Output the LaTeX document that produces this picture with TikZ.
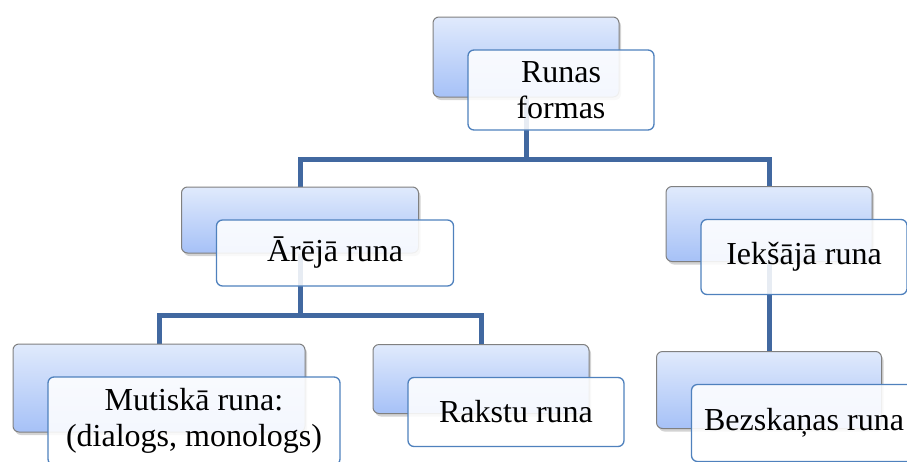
\documentclass[tikz,border=0pt]{standalone}
\usepackage{fontspec}
\setmainfont{Liberation Serif}
\usetikzlibrary{shadows,backgrounds}

\definecolor{linkblue}{RGB}{65,104,160}
\definecolor{frameblue}{RGB}{79,129,189}
\definecolor{backgray}{RGB}{128,128,128}
\definecolor{backtop}{RGB}{224,234,252}
\definecolor{backbot}{RGB}{166,193,247}

\tikzset{
backbox/.style={draw=backgray,line width=1pt,rounded corners=6pt,top color=backtop,bottom color=backbot,
  drop shadow={shadow xshift=2pt,shadow yshift=-3pt,opacity=0.35}},
frontbox/.style={draw=frameblue,line width=1.3pt,rounded corners=6pt,fill=white,fill opacity=0.88,text opacity=1,
  align=center,font=\fontsize{32}{36}\selectfont},
link/.style={draw=linkblue,line width=5pt}
}

\begin{document}
\begin{tikzpicture}[x=1pt,y=-1pt]
\useasboundingbox (0,0) rectangle (907,461);
% back boxes
\node[backbox,minimum width=186pt,minimum height=80pt] (b0) at (526,57) {};
\node[backbox,minimum width=237pt,minimum height=66pt] (b1) at (300,220) {};
\node[backbox,minimum width=206pt,minimum height=75pt] (b2) at (769,224) {};
\node[backbox,minimum width=292pt,minimum height=88pt] (b3) at (159,388) {};
\node[backbox,minimum width=216pt,minimum height=69pt] (b4) at (481,379) {};
\node[backbox,minimum width=225pt,minimum height=77pt] (b5) at (769,390) {};
% front boxes with the texts
\node[frontbox,minimum width=186pt,minimum height=80pt] (runas) at (561,90) {Runas\\formas};
\node[frontbox,minimum width=237pt,minimum height=66pt] (areja) at (335,253) {Ārējā runa};
\node[frontbox,minimum width=206pt,minimum height=75pt] (ieksa) at (804,257) {Iekšājā runa};
\node[frontbox,minimum width=292pt,minimum height=88pt] (mutiska) at (194,421) {Mutiskā runa:\\(dialogs, monologs)};
\node[frontbox,minimum width=216pt,minimum height=69pt] (rakstu) at (516,412) {Rakstu runa};
\node[frontbox,minimum width=225pt,minimum height=77pt] (bezskanas) at (804,423) {Bezskaņas runa};
% connectors
\begin{scope}[on background layer]
\coordinate (topbar) at (526,159);
\coordinate (midbar) at (300,315);
\draw[link] (b0.south) -- (topbar);
\draw[link] (b1.north) |- (topbar) -| (b2.north);
\draw[link] (b1.south) -- (midbar);
\draw[link] (b3.north) |- (midbar) -| (b4.north);
\draw[link] (b2.south) -- (b5.north);
\end{scope}
\end{tikzpicture}
\end{document}
